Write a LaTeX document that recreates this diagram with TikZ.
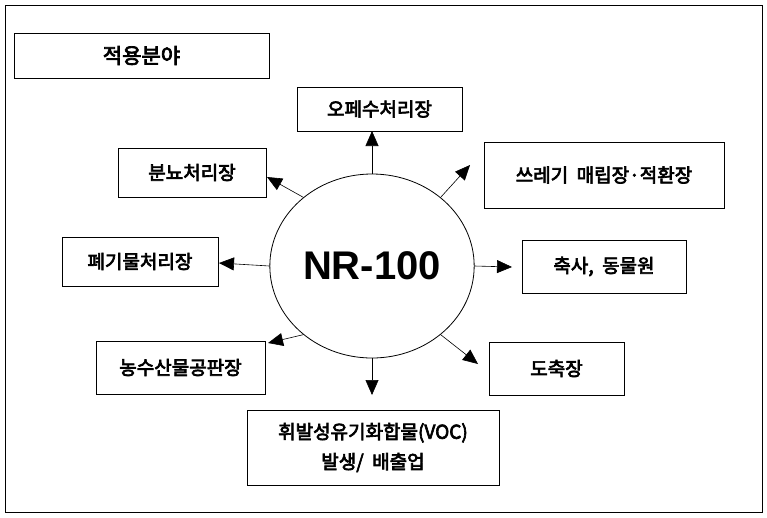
\documentclass[tikz,border=0pt]{standalone}
\usepackage{fontspec}
\setmainfont{Noto Sans CJK KR}[AutoFakeBold=3.5]
\newfontfamily\nrfont{Liberation Sans}
\usetikzlibrary{shapes.geometric,arrows.meta}
\begin{document}
\begin{tikzpicture}[x=1pt,y=-1pt,
  box/.style={draw,line width=0.8pt,inner sep=0pt,font=\fontsize{19}{22}\selectfont\bfseries},
  arr/.style={line width=0.6pt,-{Triangle[length=15pt,width=13pt]}}]
\useasboundingbox (0,0) rectangle (767,517);
\draw[line width=0.8pt] (5,5) rectangle (762,512);
\node[box,minimum width=255,minimum height=45,font=\fontsize{21}{24}\selectfont\bfseries] (t) at (141.5,55.5) {적용분야};
\node[draw,ellipse,line width=0.8pt,minimum width=195,minimum height=184,font=\nrfont\fontsize{40}{44}\selectfont\bfseries] (c) at (372,266) {NR-100};
\node[box,minimum width=165,minimum height=44] (a) at (379.5,109) {오페수처리장};
\node[box,minimum width=240,minimum height=66] (b) at (604,175) {쓰레기\ \ 매립장·적환장};
\node[box,minimum width=148,minimum height=49] (d) at (192,172.5) {분뇨처리장};
\node[box,minimum width=156,minimum height=49] (e) at (140,261.5) {폐기물처리장};
\node[box,minimum width=164,minimum height=53] (f) at (604,266.5) {축사,\ \ 동물원};
\node[box,minimum width=169,minimum height=53] (g) at (180.5,367.5) {농수산물공판장};
\node[box,minimum width=135,minimum height=53] (h) at (556.5,368.5) {도축장};
\node[box,minimum width=252,minimum height=75,align=center,font=\fontsize{19}{30}\selectfont\bfseries] (v) at (373,447.5) {휘발성유기화합물(VOC)\\발생/\ \ 배출업};
\coordinate (ea) at (372,131);
\coordinate (eb) at (470,165);
\coordinate (ed) at (267,177);
\coordinate (ee) at (219,263);
\coordinate (ef) at (512,267);
\coordinate (eg) at (268,343);
\coordinate (eh) at (478,364);
\coordinate (ev) at (372,395);
\draw[arr] (c.90) -- (ea);
\draw[arr] (c.45) -- (eb);
\draw[arr] (c.135) -- (ed);
\draw[arr] (c.180) -- (ee);
\draw[arr] (c.0) -- (ef);
\draw[arr] (c.225) -- (eg);
\draw[arr] (c.315) -- (eh);
\draw[arr] (c.270) -- (ev);
\end{tikzpicture}
\end{document}
